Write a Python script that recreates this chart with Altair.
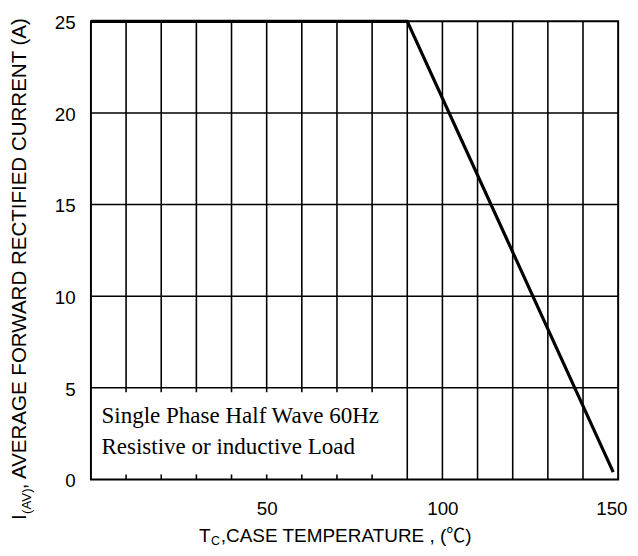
import altair as alt
import pandas as pd

# curve: case temperature (°C) vs average forward rectified current (A)
temp = [0, 90, 148.6]
current = [25, 25, 0.4]

grid_full_x = [90, 100, 110, 120, 130, 140]
grid_part_x = [10, 20, 30, 40, 50, 60, 70, 80]
grid_y = [5, 10, 15, 20]
x_ticks = [50, 100, 150]
y_ticks = [0, 5, 10, 15, 20, 25]
notes = ["Single Phase Half Wave 60Hz", "Resistive or inductive Load"]
note_x = [3, 3]
note_y = [3.08, 1.36]

W, H = 534, 464
SANS = "Liberation Sans, Arial, sans-serif"
SERIF = "Liberation Serif, Times New Roman, serif"

xs = alt.Scale(domain=[0, 150], nice=False, zero=False)
ys = alt.Scale(domain=[0, 25], nice=False, zero=False)

x_axis = alt.Axis(values=x_ticks, ticks=False, domain=False, grid=False, title=None,
                  labelFont=SANS, labelFontSize=19, labelColor="black", labelPadding=21,
                  labelFlush=True, labelFlushOffset=9)
y_axis = alt.Axis(values=y_ticks, ticks=False, domain=False, grid=False, title=None,
                  labelFont=SANS, labelFontSize=19, labelColor="black", labelPadding=16,
                  labelOffset=1.5)

curve_df = pd.DataFrame({"t": temp, "i": current})
vfull_df = pd.DataFrame({"x": grid_full_x, "y0": [0] * len(grid_full_x), "y1": [25] * len(grid_full_x)})
vpart_df = pd.DataFrame({"x": grid_part_x, "y0": [4.75] * len(grid_part_x), "y1": [25] * len(grid_part_x)})
tick_df = pd.DataFrame({"x": grid_part_x, "y0": [0] * len(grid_part_x), "y1": [0.27] * len(grid_part_x)})
h_df = pd.DataFrame({"y": grid_y, "x0": [0] * len(grid_y), "x1": [150] * len(grid_y)})
note_df = pd.DataFrame({"x": note_x, "y": note_y, "txt": notes})


def X(f):
    return alt.X(f, scale=xs, axis=x_axis)


def Y(f):
    return alt.Y(f, scale=ys, axis=y_axis)


rule = dict(color="black", strokeWidth=1.6)
vfull = alt.Chart(vfull_df).mark_rule(**rule).encode(x=X("x:Q"), y=Y("y0:Q"), y2="y1:Q")
vpart = alt.Chart(vpart_df).mark_rule(**rule).encode(x=X("x:Q"), y=Y("y0:Q"), y2="y1:Q")
ticks = alt.Chart(tick_df).mark_rule(**rule).encode(x=X("x:Q"), y=Y("y0:Q"), y2="y1:Q")
hrules = alt.Chart(h_df).mark_rule(**rule).encode(y=Y("y:Q"), x=X("x0:Q"), x2="x1:Q")

curve = alt.Chart(curve_df).mark_line(color="black", strokeWidth=3.2, strokeCap="butt").encode(
    x=X("t:Q"), y=Y("i:Q"))

note = alt.Chart(note_df).mark_text(font=SERIF, fontSize=23.3, align="left", baseline="alphabetic",
                                    color="black").encode(
    x=X("x:Q"), y=Y("y:Q"), text="txt:N")

one = pd.DataFrame({"k": [0]})


def label(txt, px, py, size, angle=0, align="left", font=SANS):
    return alt.Chart(one).mark_text(text=txt, font=font, fontSize=size, angle=angle, align=align,
                                    baseline="alphabetic", color="black").encode(
        x=alt.value(px), y=alt.value(py))


# y title: I_(AV), AVERAGE FORWARD RECTIFIED CURRENT (A)
yt1 = label("I", -65.5, 505, 20.8, angle=270)
yt2 = label("(AV)", -60.5, 499, 13.5, angle=270)
yt3 = label(", AVERAGE FORWARD RECTIFIED CURRENT (A)", -65.5, 474, 20.8, angle=270)
# x title: T_C,CASE TEMPERATURE , (℃)
xt1 = label("T", 109.5, 527, 19.2)
xt2 = label("C", 121.5, 530, 12.5)
xt3 = label(",CASE TEMPERATURE , (℃)", 131.5, 527, 19.2,
            font="Liberation Sans, Arial, 'Noto Sans CJK SC', sans-serif")

chart = alt.layer(vfull, vpart, ticks, hrules, curve, note,
                  yt1, yt2, yt3, xt1, xt2, xt3).properties(
    width=W, height=H,
    padding={"left": 84, "top": 10, "right": 12, "bottom": 66},
    autosize=alt.AutoSizeParams(type="none"),
    background="white",
).configure_view(stroke="black", strokeWidth=2)

chart.save("out.html", embed_options={"renderer": "svg", "actions": False})
